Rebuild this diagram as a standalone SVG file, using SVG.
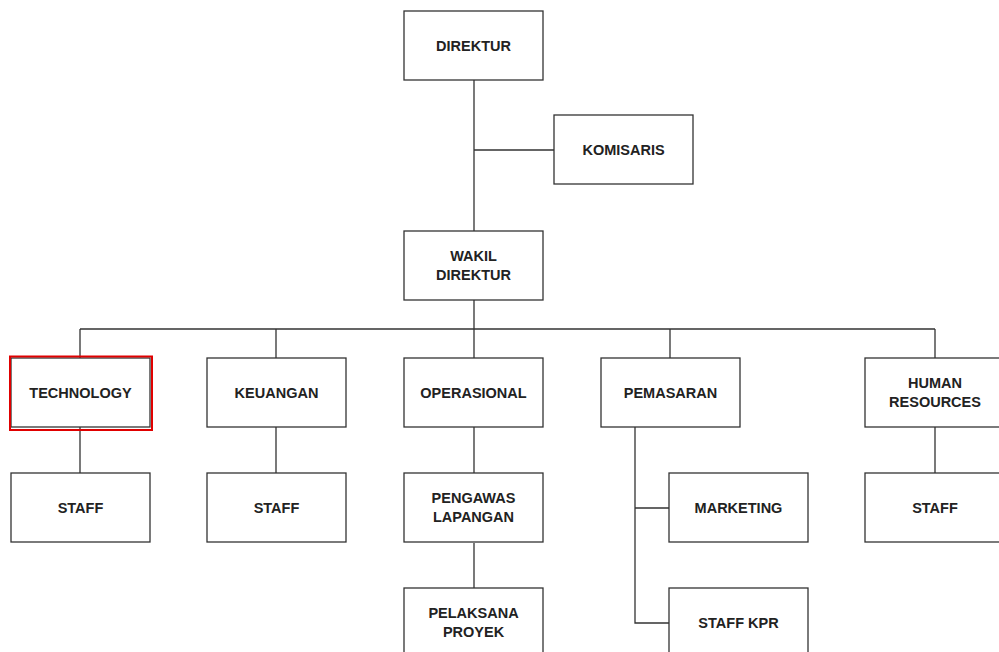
<svg xmlns="http://www.w3.org/2000/svg" width="999" height="652" viewBox="0 0 999 652">
<style>
.box{fill:#fff;stroke:#333;stroke-width:1.3}
.ln{fill:none;stroke:#333;stroke-width:1.3}
text{font-family:"Liberation Sans",Arial,sans-serif;font-size:14.5px;font-weight:bold;fill:#222;text-anchor:middle;dominant-baseline:central}
</style>
<rect width="999" height="652" fill="#fff"/>
<g id="connectors">
<path class="ln" d="M474 80V231M474 150H554M474 300V329M80 329H935M80 329V358M276 329V358M474 329V358M670 329V358M935 329V358M80 427V473M276 427V473M474 427V473M474 543V588M635 427V623H669M635 508H669M935 427V473"/>
</g>
<g id="direktur"><rect class="box" x="404" y="11" width="139" height="69"/><text x="473.5" y="46">DIREKTUR</text></g>
<g id="komisaris"><rect class="box" x="554" y="115" width="139" height="69"/><text x="623.5" y="150">KOMISARIS</text></g>
<g id="wakil"><rect class="box" x="404" y="231" width="139" height="69"/><text x="473.5" y="256">WAKIL</text><text x="473.5" y="275">DIREKTUR</text></g>
<g id="technology"><rect class="box" x="11" y="358" width="139" height="69"/><rect x="10" y="356.5" width="142" height="73.5" fill="none" stroke="#e00000" stroke-width="2"/><text x="80.5" y="392.5">TECHNOLOGY</text></g>
<g id="keuangan"><rect class="box" x="207" y="358" width="139" height="69"/><text x="276.5" y="392.5">KEUANGAN</text></g>
<g id="operasional"><rect class="box" x="404" y="358" width="139" height="69"/><text x="473.5" y="392.5">OPERASIONAL</text></g>
<g id="pemasaran"><rect class="box" x="601" y="358" width="139" height="69"/><text x="670.5" y="392.5">PEMASARAN</text></g>
<g id="hr"><rect class="box" x="865" y="358" width="139" height="69"/><text x="935" y="383">HUMAN</text><text x="935" y="402">RESOURCES</text></g>
<g id="staff-tech"><rect class="box" x="11" y="473" width="139" height="69"/><text x="80.5" y="508">STAFF</text></g>
<g id="staff-keu"><rect class="box" x="207" y="473" width="139" height="69"/><text x="276.5" y="508">STAFF</text></g>
<g id="pengawas"><rect class="box" x="404" y="473" width="139" height="69"/><text x="473.5" y="498">PENGAWAS</text><text x="473.5" y="517">LAPANGAN</text></g>
<g id="pelaksana"><rect class="box" x="404" y="588" width="139" height="69"/><text x="473.5" y="613">PELAKSANA</text><text x="473.5" y="632">PROYEK</text></g>
<g id="marketing"><rect class="box" x="669" y="473" width="139" height="69"/><text x="738.5" y="508">MARKETING</text></g>
<g id="staffkpr"><rect class="box" x="669" y="588" width="139" height="69"/><text x="738.5" y="623">STAFF KPR</text></g>
<g id="staff-hr"><rect class="box" x="865" y="473" width="139" height="69"/><text x="935" y="508">STAFF</text></g>
</svg>
